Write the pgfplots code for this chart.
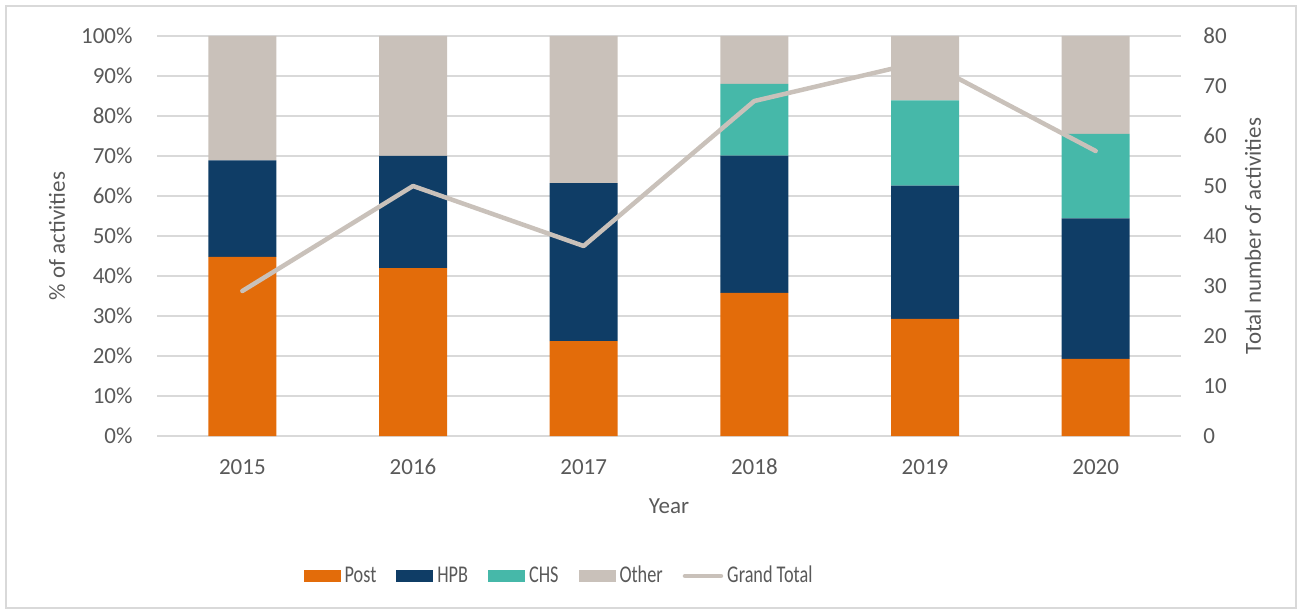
\documentclass[border=0pt]{standalone}
\usepackage{fontspec}
\setmainfont{Carlito}
\newfontfamily\condfont[FakeStretch=0.76]{Carlito}
\usepackage{pgfplots}
\pgfplotsset{compat=1.18}
\definecolor{postc}{HTML}{E36C0A}
\definecolor{hpbc}{HTML}{0F3D66}
\definecolor{chsc}{HTML}{46B8A9}
\definecolor{othc}{HTML}{C9C1BA}
\definecolor{gridc}{HTML}{D9D9D9}
\definecolor{txtc}{HTML}{595959}
\pgfplotsset{
 barlegend/.style={legend image code/.code={\fill[##1] (0pt,-3pt) rectangle (18.5pt,3pt);}},
 linelegend/.style={legend image code/.code={\draw[##1] (1pt,0pt) -- (19pt,0pt);}},
}
\begin{document}
\begin{tikzpicture}[font=\fontsize{11.5}{13}\selectfont]
\useasboundingbox (0,0) rectangle (650.5pt,305.5pt);
\draw[gridc, line width=0.6pt] (3pt,1.5pt) rectangle (648pt,302.5pt);
\pgfplotsset{
 base/.style={scale only axis, width=512pt, height=200pt, at={(78.5pt,87.5pt)}, anchor=south west,
   xmin=-0.5, xmax=5.5, major tick length=0, axis line style={draw=none},
   tick label style={text=txtc},
   /pgf/number format/assume math mode=true}
}
\begin{axis}[base, ybar stacked, bar width=34pt, ymin=0, ymax=100,
  ytick={0,10,...,100},
  yticklabels={0\%,10\%,20\%,30\%,40\%,50\%,60\%,70\%,80\%,90\%,100\%},
  ymajorgrids, grid style={gridc, line width=0.7pt},
  xtick={0,1,2,3,4,5}, xticklabels={2015,2016,2017,2018,2019,2020},
  xticklabel style={anchor=center, yshift=-15.5pt},
  yticklabel style={anchor=east, xshift=-8.7pt},
  xlabel={Year}, ylabel={\% of activities},
  every axis x label/.style={at={(axis description cs:0.5,-0.175)}, anchor=center, text=txtc},
  every axis y label/.style={at={(axis description cs:-0.0977,0.5)}, rotate=90, anchor=center, text=txtc},
  legend style={at={(0.3936,-0.35)}, anchor=center, draw=none, fill=none, legend columns=5,
    text=txtc, font=\condfont\fontsize{12}{13}\selectfont,
    /tikz/every even column/.append style={column sep=8pt},
    legend cell align=left, inner sep=0pt},
]
\addplot[fill=postc, draw=none, barlegend] coordinates {(0,44.8)(1,42.0)(2,23.7)(3,35.8)(4,29.3)(5,19.3)};
\addplot[fill=hpbc, draw=none, barlegend] coordinates {(0,24.1)(1,28.0)(2,39.5)(3,34.3)(4,33.3)(5,35.1)};
\addplot[fill=chsc, draw=none, barlegend] coordinates {(0,0)(1,0)(2,0)(3,17.9)(4,21.3)(5,21.1)};
\addplot[fill=othc, draw=none, barlegend] coordinates {(0,31.1)(1,30.0)(2,36.8)(3,12.0)(4,16.1)(5,24.5)};
\addlegendimage{othc, line width=2.25pt, line cap=round, linelegend}
\legend{Post,HPB,CHS,Other,Grand Total}
\end{axis}
\begin{axis}[base, ymin=0, ymax=80, ytick={0,10,...,80},
  axis x line=none, axis y line*=right,
  yticklabel style={anchor=west, xshift=7.7pt},
  ylabel={Total number of activities},
  every axis y label/.style={at={(axis description cs:1.0703,0.5)}, rotate=90, anchor=center, text=txtc},
]
\addplot[othc, line width=2.25pt, line cap=round, line join=round] coordinates {(0,29)(1,50)(2,38)(3,67)(4,75)(5,57)};
\end{axis}
\end{tikzpicture}
\end{document}
